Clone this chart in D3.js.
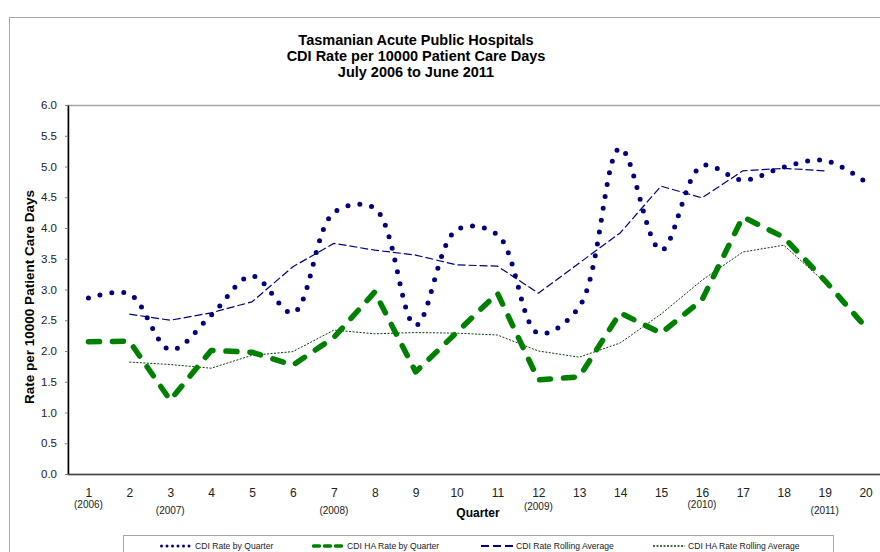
<!DOCTYPE html>
<html>
<head>
<meta charset="utf-8">
<script src="https://cdn.jsdelivr.net/npm/d3@7"></script>
<style>
  body { margin: 0; background: #fff; }
  text { font-family: "Liberation Sans", Arial, sans-serif; }
</style>
</head>
<body>
<div class="chart"></div>
<script>
// Chart data
const quarters = d3.range(1, 21);
const yearLabels = [
  { q: 1, label: "(2006)", dy: 0 },
  { q: 3, label: "(2007)", dy: 6 },
  { q: 7, label: "(2008)", dy: 6 },
  { q: 12, label: "(2009)", dy: 2 },
  { q: 16, label: "(2010)", dy: 0 },
  { q: 19, label: "(2011)", dy: 6 }
];
const cdiRate = [2.86, 2.93, 2.02, 2.58, 3.22, 2.62, 4.25, 4.32, 2.42, 3.97,
  3.89, 2.29, 2.72, 5.30, 3.64, 5.01, 4.78, 4.99, 5.10, 4.75];
const cdiHaRate = [2.15, 2.16, 1.20, 2.01, 1.98, 1.77, 2.22, 2.96, 1.66, 2.30,
  2.94, 1.53, 1.58, 2.62, 2.29, 2.83, 4.18, 3.85, 3.15, 2.39];
const cdiRolling = [null, 2.60, 2.50, 2.62, 2.80, 3.37, 3.75, 3.64, 3.56, 3.40,
  3.38, 2.94, 3.43, 3.92, 4.68, 4.49, 4.93, 4.97, 4.93, null];
const cdiHaRolling = [null, 1.82, 1.78, 1.72, 1.93, 1.99, 2.34, 2.28, 2.30, 2.29,
  2.26, 2.00, 1.90, 2.13, 2.60, 3.15, 3.61, 3.72, 3.12, null];
const yTicks = d3.range(0, 6.01, 0.5);

// Sizes
const w = 880;
const h = 552;
const plot = { left: 68, top: 105, right: 886, bottom: 474 };

const svg = d3.select(".chart").append("svg")
  .attr("width", w)
  .attr("height", h);

// Outer chart border
svg.append("rect")
  .attr("x", 9.5).attr("y", 17.5)
  .attr("width", w + 20).attr("height", h + 20)
  .attr("fill", "none")
  .attr("stroke", "#a6a6a6");

// Title
const title = ["Tasmanian Acute Public Hospitals", "CDI Rate per 10000 Patient Care Days", "July 2006 to June 2011"];
svg.append("g").selectAll("text")
  .data(title)
  .enter().append("text")
  .attr("x", 416)
  .attr("y", (d, i) => 45 + i * 16)
  .attr("text-anchor", "middle")
  .attr("font-size", 14.5)
  .attr("font-weight", "bold")
  .text(d => d);

// Scales
const xScale = d3.scalePoint()
  .domain(quarters)
  .range([plot.left, plot.right])
  .padding(0.5);

const yScale = d3.scaleLinear()
  .domain([0, 6])
  .range([plot.bottom, plot.top]);

// Plot area border
svg.append("rect")
  .attr("x", plot.left).attr("y", plot.top + 0.5)
  .attr("width", plot.right - plot.left)
  .attr("height", plot.bottom - plot.top)
  .attr("fill", "none")
  .attr("stroke", "#a6a6a6")
  .attr("stroke-width", 1.5);

// Y axis
const yAxis = svg.append("g")
  .attr("transform", `translate(${plot.left}, 0)`)
  .call(d3.axisLeft(yScale).tickValues(yTicks).tickFormat(d3.format(".1f")).tickSize(3).tickPadding(8).tickSizeOuter(0));
yAxis.select(".domain").attr("stroke", "#000").attr("stroke-width", 1.5);
yAxis.selectAll(".tick line").attr("stroke", "#808080");
yAxis.selectAll("text").attr("font-size", 11.5).attr("fill", "#222")
  .attr("font-family", "Liberation Sans, Arial, sans-serif");

// X axis
const xAxis = svg.append("g")
  .attr("transform", `translate(0, ${plot.bottom})`)
  .call(d3.axisBottom(xScale).tickSize(0).tickPadding(14).tickSizeOuter(0));
xAxis.select(".domain").attr("stroke", "#444").attr("stroke-width", 1.5);
xAxis.selectAll("text").attr("font-size", 12).attr("fill", "#222")
  .attr("font-family", "Liberation Sans, Arial, sans-serif");

// Year labels under quarters
svg.append("g").selectAll("text")
  .data(yearLabels)
  .enter().append("text")
  .attr("x", d => xScale(d.q))
  .attr("y", d => 508 + d.dy)
  .attr("text-anchor", "middle")
  .attr("font-size", 10)
  .attr("fill", "#222")
  .text(d => d.label);

// Axis titles
svg.append("text")
  .text("Quarter")
  .attr("x", 478).attr("y", 517)
  .attr("text-anchor", "middle")
  .attr("font-size", 12)
  .attr("font-weight", "bold");

svg.append("text")
  .text("Rate per 10000 Patient Care Days")
  .attr("transform", "translate(34, 297) rotate(-90)")
  .attr("text-anchor", "middle")
  .attr("font-size", 13.5)
  .attr("font-weight", "bold");

// Series
const series = [
  { name: "CDI Rate by Quarter", values: cdiRate, color: "#000080", width: 5, dash: "0 12", curve: d3.curveCatmullRom.alpha(0.5), cap: "round",
    legendWidth: 3, legendDash: "0 5.5" },
  { name: "CDI  HA Rate by Quarter", values: cdiHaRate, color: "#008000", width: 5.5, dash: "11 13", curve: d3.curveLinear, cap: "round",
    legendWidth: 3.5, legendDash: "6 5" },
  { name: "CDI Rate Rolling Average", values: cdiRolling, color: "#000080", width: 1.2, dash: "8 3", curve: d3.curveLinear, cap: "butt",
    legendWidth: 2, legendDash: "8 4" },
  { name: "CDI HA Rate Rolling Average", values: cdiHaRolling, color: "#0a3d0a", width: 1, dash: "2 1.5", curve: d3.curveLinear, cap: "butt",
    legendWidth: 1.5, legendDash: "2 1.5" }
];

const line = d3.line()
  .defined(d => d.v != null)
  .x(d => xScale(d.q))
  .y(d => yScale(d.v));

// Draw rolling averages first, then rates on top
[2, 3, 1, 0].forEach(i => {
  const s = series[i];
  svg.append("path")
    .datum(quarters.map((q, j) => ({ q: q, v: s.values[j] })))
    .attr("fill", "none")
    .attr("stroke", s.color)
    .attr("stroke-width", s.width)
    .attr("stroke-dasharray", s.dash)
    .attr("stroke-linecap", s.cap)
    .attr("stroke-linejoin", "round")
    .attr("d", line.curve(s.curve));
});

// Legend
const legend = svg.append("g");
legend.append("rect")
  .attr("x", 123.5).attr("y", 535.5)
  .attr("width", 710).attr("height", 40)
  .attr("fill", "#fff")
  .attr("stroke", "#a6a6a6");

const legendX = [160, 312, 481, 653];
series.forEach((s, i) => {
  legend.append("line")
    .attr("x1", legendX[i] + (s.cap === "round" ? 1.5 : 0)).attr("x2", legendX[i] + 32)
    .attr("y1", 546).attr("y2", 546)
    .attr("stroke", s.color)
    .attr("stroke-width", s.legendWidth)
    .attr("stroke-dasharray", s.legendDash)
    .attr("stroke-linecap", s.cap);
  legend.append("text")
    .attr("x", legendX[i] + 35)
    .attr("y", 549)
    .attr("font-size", 8.6)
    .attr("fill", "#222")
    .text(s.name);
});
</script>
</body>
</html>
